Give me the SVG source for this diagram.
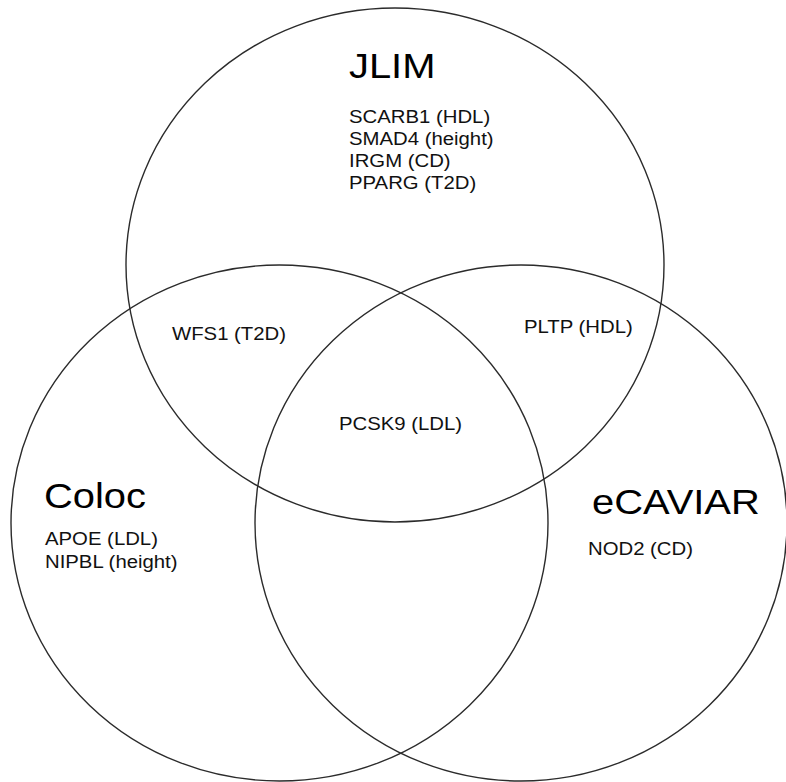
<svg xmlns="http://www.w3.org/2000/svg" width="786" height="782" viewBox="0 0 786 782">
<style>
.set{fill:none;stroke:#2b2b2b;stroke-width:1.4}
.title{font-family:"Liberation Sans",Arial,sans-serif;font-size:35px;fill:#000}
.gene{font-family:"Liberation Sans",Arial,sans-serif;font-size:18px;fill:#111}
</style>
<rect width="786" height="782" fill="#fff"/>
<g id="connectors"></g>
<g id="jlim">
<ellipse class="set" cx="395" cy="265" rx="269" ry="257"/>
<text class="title" transform="translate(349,78) scale(1.14,1)">JLIM</text>
<text class="gene" transform="translate(349,123) scale(1.13,1)">SCARB1 (HDL)</text>
<text class="gene" transform="translate(349,145) scale(1.13,1)">SMAD4 (height)</text>
<text class="gene" transform="translate(349,167) scale(1.13,1)">IRGM (CD)</text>
<text class="gene" transform="translate(349,189) scale(1.13,1)">PPARG (T2D)</text>
</g>
<g id="coloc">
<ellipse class="set" cx="279.5" cy="523" rx="268.5" ry="258"/>
<text class="title" transform="translate(44,508) scale(1.14,1)">Coloc</text>
<text class="gene" transform="translate(45,545) scale(1.13,1)">APOE (LDL)</text>
<text class="gene" transform="translate(45,568) scale(1.13,1)">NIPBL (height)</text>
</g>
<g id="ecaviar">
<ellipse class="set" cx="521" cy="523" rx="266" ry="258"/>
<text class="title" transform="translate(592,514) scale(1.14,1)">eCAVIAR</text>
<text class="gene" transform="translate(588,555) scale(1.13,1)">NOD2 (CD)</text>
</g>
<g id="jlim-coloc">
<text class="gene" transform="translate(172,340) scale(1.13,1)">WFS1 (T2D)</text>
</g>
<g id="jlim-ecaviar">
<text class="gene" transform="translate(524,333) scale(1.13,1)">PLTP (HDL)</text>
</g>
<g id="all-three">
<text class="gene" transform="translate(339,430) scale(1.13,1)">PCSK9 (LDL)</text>
</g>
</svg>
